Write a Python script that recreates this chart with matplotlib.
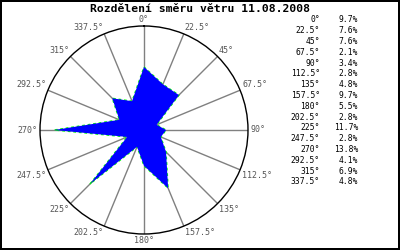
import numpy as np
import matplotlib
matplotlib.use("Agg")
import matplotlib.pyplot as plt

# Dataset
angles = [0, 22.5, 45, 67.5, 90, 112.5, 135, 157.5, 180, 202.5, 225, 247.5, 270, 292.5, 315, 337.5]
angle_labels = ["0", "22.5", "45", "67.5", "90", "112.5", "135", "157.5",
                "180", "202.5", "225", "247.5", "270", "292.5", "315", "337.5"]
values = [9.7, 7.6, 7.6, 2.1, 3.4, 2.8, 4.8, 9.7, 5.5, 2.8, 11.7, 2.8, 13.8, 4.1, 6.9, 4.8]
rmax = 16
title = "Rozdělení směru větru 11.08.2008"

mono = "DejaVu Sans Mono"

fig = plt.figure(figsize=(4, 2.5), dpi=100)
fig.patch.set_facecolor("white")
fig.patch.set_edgecolor("black")
fig.patch.set_linewidth(1.5)

ax = fig.add_axes([0.1, 0.064, 0.52, 0.832], projection="polar")
ax.set_theta_zero_location("N")
ax.set_theta_direction(-1)
ax.set_ylim(0, rmax)
ax.grid(False)
ax.set_xticks([])
ax.set_yticks([])
ax.spines["polar"].set_color("black")
ax.spines["polar"].set_linewidth(1)

th = np.radians(angles)

# paprsky
for t in th:
    ax.plot([t, t], [0, rmax], color="#808080", lw=1, zorder=1)

# polygon
tt = np.append(th, th[0])
vv = np.append(values, values[0])
ax.plot(tt, vv, color="#00ff00", lw=1, ls=(0, (2, 2)), zorder=2)
ax.fill(tt, vv, color="blue", lw=0, zorder=3)

# popisky os
for t, lab in zip(th, angle_labels):
    s, c = np.sin(t), np.cos(t)
    ha = "center" if abs(s) < 1e-6 else ("left" if s > 0 else "right")
    va = "center" if abs(c) < 1e-6 else ("bottom" if c > 0 else "top")
    ax.text(t, rmax * 1.02, lab + "°", ha=ha, va=va, family=mono,
            fontsize=6, color="#555555", clip_on=False)

fig.text(0.5, 0.964, title, ha="center", va="center", family=mono,
         fontsize=8.2, fontweight="bold")

# legenda
y0 = 0.92
dy = 0.0432
for i, (lab, v) in enumerate(zip(angle_labels, values)):
    y = y0 - i * dy
    fig.text(0.80, y, lab + "°", ha="right", va="center", family=mono, fontsize=5.8)
    fig.text(0.895, y, f"{v}%", ha="right", va="center", family=mono, fontsize=5.8)

fig.savefig("out.png", dpi=100)
